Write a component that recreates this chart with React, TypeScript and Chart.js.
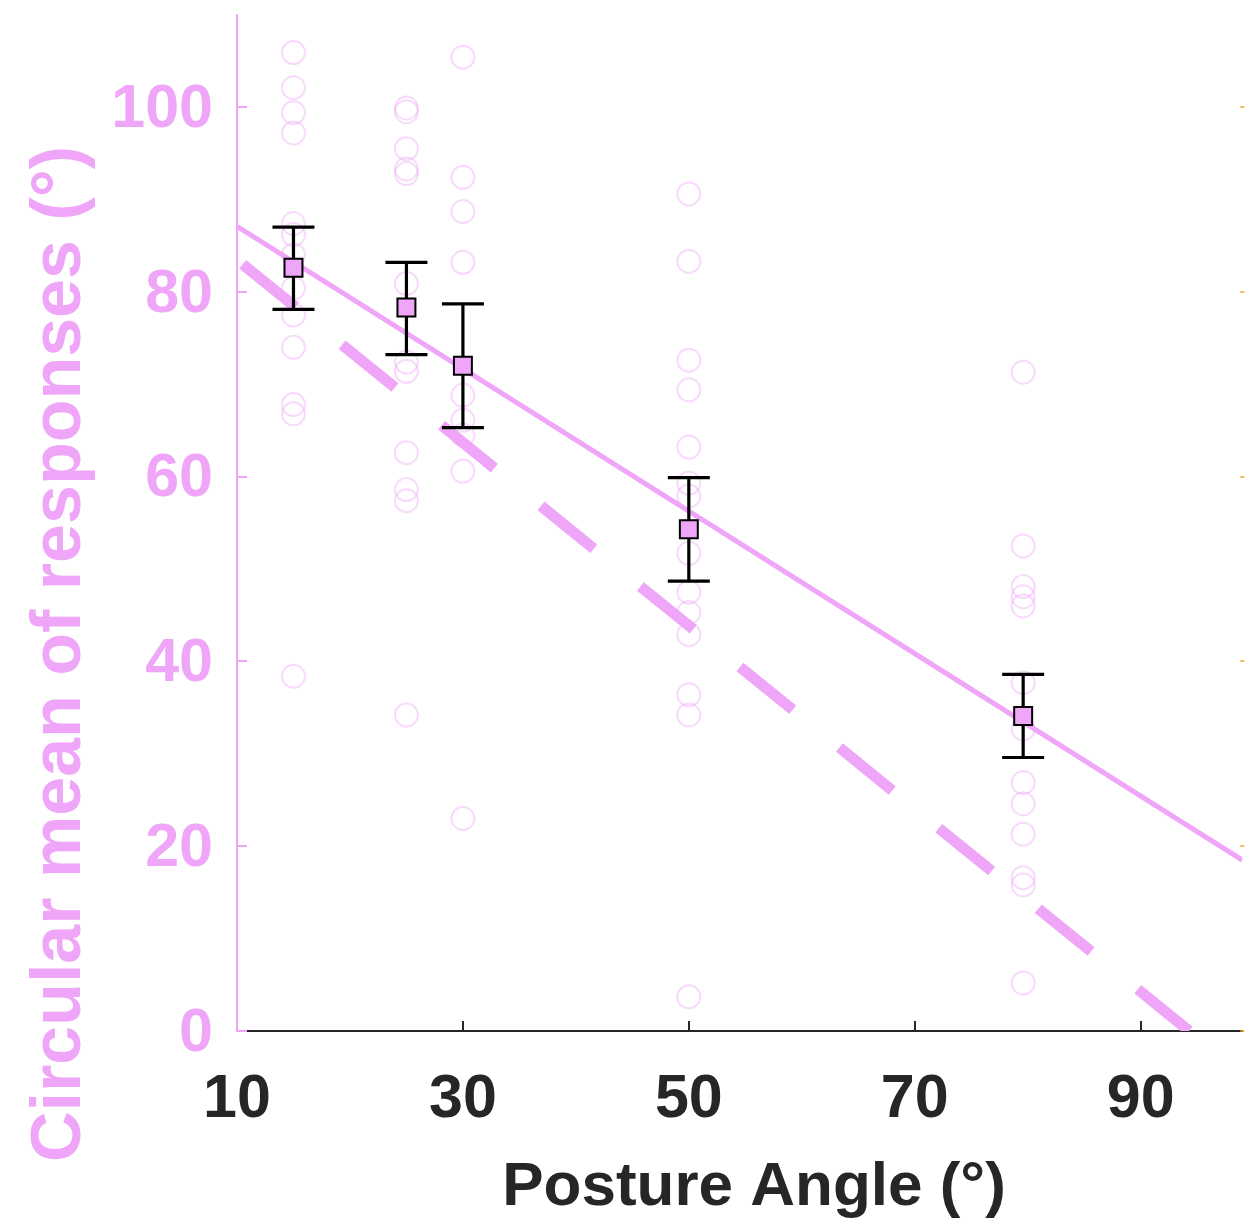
import React, { useEffect, useRef } from 'react';
import { Chart, registerables } from 'chart.js';

Chart.register(...registerables);

const PINK = '#EFA6F8';
const PINK_LIGHT = 'rgba(239,166,248,0.42)';
const DARK = '#262626';
const ORANGE = '#F0A030';

// Condition means with error bars
const postureAngles = [15, 25, 30, 50, 79.6];
const meanResponses = [82.6, 78.3, 72.0, 54.3, 34.1];
const errLow = [78.1, 73.2, 65.3, 48.7, 29.6];
const errHigh = [87.0, 83.2, 78.7, 59.9, 38.6];

// Individual participant circular means per posture angle
const responses15 = [105.9, 102.1, 99.4, 97.2, 87.4, 86.2, 84.0, 80.4, 77.5, 74.0, 67.8, 66.8, 38.4];
const responses25 = [99.9, 99.5, 95.5, 93.3, 92.8, 80.9, 72.4, 71.4, 62.6, 58.6, 57.4, 34.2];
const responses30 = [105.4, 92.4, 88.7, 83.2, 68.8, 66.1, 64.5, 60.6, 23.0];
const responses50 = [90.6, 83.3, 72.6, 69.4, 63.2, 59.3, 57.9, 51.7, 47.5, 45.3, 42.9, 36.4, 34.2, 3.7];
const responses80 = [71.3, 52.5, 48.1, 47.0, 46.0, 37.7, 32.7, 26.9, 24.6, 21.3, 16.6, 15.8, 5.2];
const responseGroups = [responses15, responses25, responses30, responses50, responses80];

// Fitted line (solid) and reference line (dashed)
const fitLineX = [10, 99];
const fitLineY = [87.1, 18.5];
const refLineX = [10.5, 94.3];
const refLineY = [83.0, 0];

// Axes
const xTicks = [10, 30, 50, 70, 90];
const yTicks = [0, 20, 40, 60, 80, 100];
const X_MIN = 10;
const X_MAX = 99;
const Y_MIN = 0;
const Y_MAX = 110;

const X_TITLE = 'Posture Angle (°)';
const Y_TITLE = 'Circular mean of responses (°)';
const FONT = '"Liberation Sans", Arial, Helvetica, sans-serif';

export default function App() {
  const canvasRef = useRef<HTMLCanvasElement | null>(null);

  useEffect(() => {
    const canvas = canvasRef.current;
    if (!canvas) return;

    const individualPoints: { x: number; y: number }[] = [];
    responseGroups.forEach((group, i) => {
      group.forEach((v) => individualPoints.push({ x: postureAngles[i], y: v }));
    });

    const decor = {
      id: 'decor',
      beforeDatasetsDraw(chart: any) {
        const { ctx, chartArea, scales } = chart;
        const { left, right, bottom } = chartArea;
        const x = scales.x;
        const y = scales.y;
        ctx.save();
        ctx.lineWidth = 2;
        ctx.strokeStyle = PINK;
        yTicks.forEach((v) => {
          const py = Math.round(y.getPixelForValue(v));
          ctx.beginPath();
          ctx.moveTo(left, py);
          ctx.lineTo(left + 10, py);
          ctx.stroke();
        });
        ctx.strokeStyle = DARK;
        xTicks.forEach((v) => {
          const px = Math.round(x.getPixelForValue(v));
          if (v === X_MIN) return;
          ctx.beginPath();
          ctx.moveTo(px, bottom);
          ctx.lineTo(px, bottom - 10);
          ctx.stroke();
        });
        ctx.strokeStyle = ORANGE;
        ctx.lineWidth = 1.5;
        yTicks.forEach((v) => {
          const py = Math.round(y.getPixelForValue(v));
          ctx.beginPath();
          ctx.moveTo(right - 2, py);
          ctx.lineTo(right + 2, py);
          ctx.stroke();
        });
        ctx.restore();
      },
      beforeDatasetDraw(chart: any, args: any) {
        const ds = chart.data.datasets[args.index];
        if (ds.label !== 'means') return;
        const { ctx, scales } = chart;
        const x = scales.x;
        const y = scales.y;
        ctx.save();
        ctx.strokeStyle = '#000000';
        ctx.lineWidth = 3.2;
        postureAngles.forEach((a, i) => {
          const px = x.getPixelForValue(a);
          const pLow = y.getPixelForValue(errLow[i]);
          const pHigh = y.getPixelForValue(errHigh[i]);
          ctx.beginPath();
          ctx.moveTo(px, pLow);
          ctx.lineTo(px, pHigh);
          ctx.moveTo(px - 21, pLow);
          ctx.lineTo(px + 21, pLow);
          ctx.moveTo(px - 21, pHigh);
          ctx.lineTo(px + 21, pHigh);
          ctx.stroke();
        });
        ctx.restore();
      },
      afterDraw(chart: any) {
        const { ctx } = chart;
        ctx.save();
        ctx.fillStyle = PINK;
        ctx.font = `bold 70px ${FONT}`;
        ctx.textAlign = 'center';
        ctx.textBaseline = 'alphabetic';
        ctx.translate(80, 654);
        ctx.rotate(-Math.PI / 2);
        ctx.fillText(Y_TITLE, 0, 0);
        ctx.restore();

        ctx.save();
        ctx.fillStyle = DARK;
        ctx.font = `bold 62px ${FONT}`;
        ctx.textAlign = 'center';
        ctx.textBaseline = 'alphabetic';
        ctx.fillText(X_TITLE, 754, 1205);
        ctx.restore();
      },
    };

    const chart = new Chart(canvas, {
      type: 'scatter',
      data: {
        datasets: [
          {
            label: 'means',
            data: postureAngles.map((a, i) => ({ x: a, y: meanResponses[i] })),
            pointStyle: 'rect',
            pointRadius: 12.7,
            pointBackgroundColor: PINK,
            pointBorderColor: '#000000',
            pointBorderWidth: 2,
            showLine: false,
            order: 0,
          } as any,
          {
            label: 'fit',
            data: fitLineX.map((v, i) => ({ x: v, y: fitLineY[i] })),
            showLine: true,
            borderColor: PINK,
            borderWidth: 5,
            pointRadius: 0,
            order: 1,
          },
          {
            label: 'reference',
            data: refLineX.map((v, i) => ({ x: v, y: refLineY[i] })),
            showLine: true,
            borderColor: PINK,
            borderWidth: 11,
            borderDash: [68, 60],
            borderCapStyle: 'butt',
            pointRadius: 0,
            order: 2,
          },
          {
            label: 'individual',
            data: individualPoints,
            pointStyle: 'circle',
            pointRadius: 11.5,
            pointBackgroundColor: 'rgba(0,0,0,0)',
            pointBorderColor: PINK_LIGHT,
            pointBorderWidth: 2,
            showLine: false,
            order: 3,
          },
        ],
      },
      options: {
        animation: false,
        responsive: false,
        devicePixelRatio: 1,
        layout: { padding: { left: 0, right: 12, top: 13, bottom: 0 } },
        plugins: {
          legend: { display: false },
          tooltip: { enabled: false },
        },
        scales: {
          x: {
            type: 'linear',
            min: X_MIN,
            max: X_MAX,
            grid: { display: false, drawTicks: false },
            border: { display: true, color: DARK, width: 2 },
            afterBuildTicks: (scale: any) => {
              scale.ticks = xTicks.map((v) => ({ value: v }));
            },
            afterFit: (scale: any) => {
              scale.height = 194;
              scale.paddingLeft = 0;
              scale.paddingRight = 0;
              scale.paddingTop = 0;
              scale.paddingBottom = 0;
            },
            ticks: {
              autoSkip: false,
              maxRotation: 0,
              color: DARK,
              padding: 33,
              font: { family: FONT, size: 61, weight: 'bold' },
            },
          },
          y: {
            type: 'linear',
            min: Y_MIN,
            max: Y_MAX,
            grid: { display: false, drawTicks: false },
            border: { display: true, color: PINK, width: 2 },
            afterBuildTicks: (scale: any) => {
              scale.ticks = yTicks.map((v) => ({ value: v }));
            },
            afterFit: (scale: any) => {
              scale.width = 237;
              scale.paddingLeft = 0;
              scale.paddingRight = 0;
              scale.paddingTop = 0;
              scale.paddingBottom = 0;
            },
            ticks: {
              autoSkip: false,
              color: PINK,
              padding: 24,
              labelOffset: 3,
              font: { family: FONT, size: 61, weight: 'bold' },
            },
          },
        },
      },
      plugins: [decor],
    });

    return () => {
      chart.destroy();
    };
  }, []);

  return (
    <canvas
      ref={canvasRef}
      width={1257}
      height={1225}
      style={{ position: 'absolute', left: 0, top: 0, display: 'block', width: 1257, height: 1225 }}
    />
  );
}
